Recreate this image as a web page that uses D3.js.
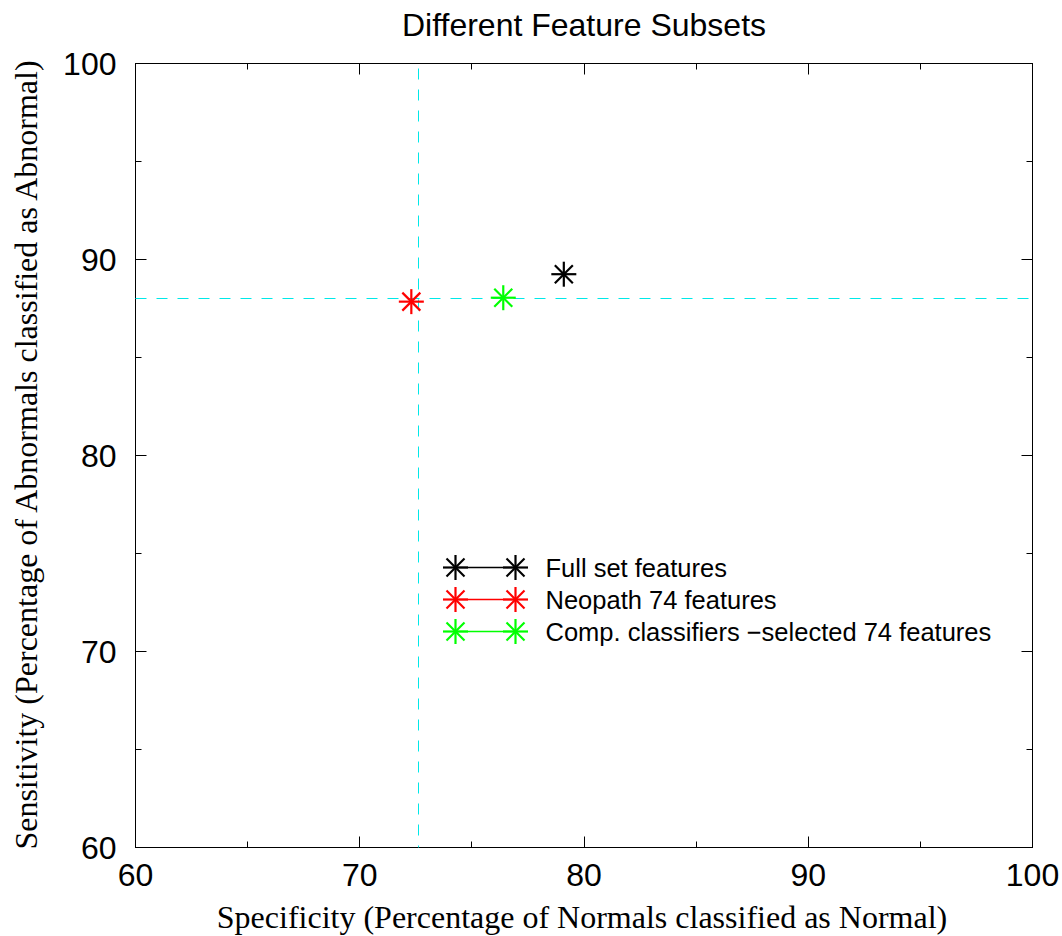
<!DOCTYPE html>
<html>
<head>
<meta charset="utf-8">
<script src="https://cdn.jsdelivr.net/npm/d3@7"></script>
<style>
  body { margin: 0; background: #fff; }
</style>
</head>
<body>
<div id="chart"></div>
<script>
const W = 1062, H = 936;
const margin = {top: 63, right: 30, bottom: 89, left: 135};
const width = 1032 - margin.left;
const height = 847 - margin.top;

// data
const seriesNames = ["Full set features", "Neopath 74 features", "Comp. classifiers \u2212selected 74 features"];
const seriesColors = ["#000000", "#ff0000", "#00ff00"];
const specificity = [79.1, 72.3, 76.4];
const sensitivity = [89.25, 87.85, 88.05];

// reference lines
const refSpecificity = 72.6;
const refSensitivity = 88.0;

const xTicks = [60, 70, 80, 90, 100];
const yTicks = [60, 70, 80, 90, 100];
const minorTicks = [65, 75, 85, 95];

const svg = d3.select("#chart").append("svg")
    .attr("width", W).attr("height", H)
    .style("font-family", "'Liberation Sans', Arial, sans-serif");

const g = svg.append("g").attr("transform", `translate(${margin.left + 0.5}, ${margin.top + 0.5})`);

const xScale = d3.scaleLinear().domain([60, 100]).range([0, width]);
const yScale = d3.scaleLinear().domain([60, 100]).range([height, 0]);

// frame
g.append("rect").attr("width", width).attr("height", height)
    .attr("fill", "none").attr("stroke", "#000").attr("stroke-width", 1);

// inward ticks on all four sides
function drawTicks(vals, len) {
    vals.forEach(v => {
        const x = Math.round(xScale(v)), y = Math.round(yScale(v));
        g.append("line").attr("x1", x).attr("x2", x).attr("y1", height).attr("y2", height - len).attr("stroke", "#000");
        g.append("line").attr("x1", x).attr("x2", x).attr("y1", 0).attr("y2", len).attr("stroke", "#000");
        g.append("line").attr("y1", y).attr("y2", y).attr("x1", 0).attr("x2", len).attr("stroke", "#000");
        g.append("line").attr("y1", y).attr("y2", y).attr("x1", width).attr("x2", width - len).attr("stroke", "#000");
    });
}
drawTicks(xTicks, 11);
drawTicks(minorTicks, 6);

// tick labels
g.selectAll(".xlab").data(xTicks).enter().append("text")
    .attr("x", d => xScale(d)).attr("y", height + 38)
    .attr("text-anchor", "middle").style("font-size", "32px").text(d => d);

g.selectAll(".ylab").data(yTicks).enter().append("text")
    .attr("x", -19).attr("y", d => yScale(d)).attr("dy", "0.36em")
    .attr("text-anchor", "end").style("font-size", "32px").text(d => d);

// dashed reference lines
const vx = Math.round(xScale(refSpecificity));
g.append("line")
    .attr("x1", vx).attr("x2", vx)
    .attr("y1", 0).attr("y2", height)
    .attr("stroke", "#00e8e8").attr("stroke-width", 1).attr("stroke-dasharray", "11,10")
    .attr("stroke-dashoffset", -5);
const hy = Math.round(yScale(refSensitivity));
g.append("line")
    .attr("x1", 0).attr("x2", width)
    .attr("y1", hy).attr("y2", hy)
    .attr("stroke", "#00e8e8").attr("stroke-width", 1).attr("stroke-dasharray", "11,10");

// asterisk marker
function star(sel, cx, cy, color, r) {
    const s = sel.append("g").attr("transform", `translate(${cx}, ${cy})`)
        .attr("stroke", color).attr("stroke-width", 2.2);
    s.append("line").attr("x1", -r).attr("x2", r).attr("y1", 0).attr("y2", 0);
    s.append("line").attr("x1", 0).attr("x2", 0).attr("y1", -r).attr("y2", r);
    const d = r * 0.72;
    s.append("line").attr("x1", -d).attr("x2", d).attr("y1", -d).attr("y2", d);
    s.append("line").attr("x1", -d).attr("x2", d).attr("y1", d).attr("y2", -d);
}

specificity.forEach((v, i) => {
    star(g, xScale(v), yScale(sensitivity[i]), seriesColors[i], 12.5);
});

// legend
const legX1 = 455 - margin.left, legX2 = 515 - margin.left;
seriesNames.forEach((name, i) => {
    const y = 567 - margin.top + i * 32;
    g.append("line").attr("x1", legX1).attr("x2", legX2).attr("y1", y).attr("y2", y)
        .attr("stroke", seriesColors[i]).attr("stroke-width", 1.3);
    star(g, legX1, y, seriesColors[i], 12.5);
    star(g, legX2, y, seriesColors[i], 12.5);
    g.append("text").attr("x", 545 - margin.left).attr("y", y).attr("dy", "0.36em")
        .style("font-size", "25.5px").text(name);
});

// title
svg.append("text").attr("x", 584).attr("y", 36)
    .attr("text-anchor", "middle").style("font-size", "32px")
    .text("Different Feature Subsets");

// axis labels
svg.append("text").attr("x", 582).attr("y", 928)
    .attr("text-anchor", "middle")
    .style("font-family", "'Liberation Serif', 'Times New Roman', serif").style("font-size", "32px")
    .text("Specificity (Percentage of Normals classified as Normal)");

svg.append("text")
    .attr("transform", "rotate(-90)")
    .attr("x", -455).attr("y", 37)
    .attr("text-anchor", "middle")
    .style("font-family", "'Liberation Serif', 'Times New Roman', serif").style("font-size", "32px")
    .text("Sensitivity (Percentage of Abnormals classified as Abnormal)");
</script>
</body>
</html>
